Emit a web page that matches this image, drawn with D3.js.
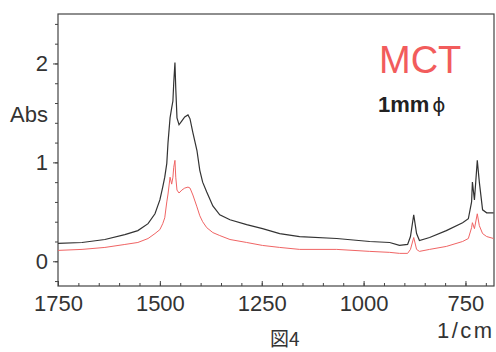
<!DOCTYPE html>
<html lang="ja">
<head>
  <meta charset="UTF-8">
  <title>図4 MCT</title>
  <script src="https://d3js.org/d3.v7.min.js"></script>
  <style>
    body { margin: 0; background: white; }
    svg { display: block; font-family: "Liberation Sans", Arial, sans-serif; }
    .axis path, .axis line { stroke: #444; }
    .axis text { font-size: 22px; fill: #333; }
  </style>
</head>
<body>
  <div id="chart"></div>
  <script>
    // wavenumber (1/cm) sampled along the spectrum
    const wavenumbers = [1750, 1691, 1635, 1586, 1554, 1529, 1512, 1500, 1493, 1488,
      1483, 1480, 1475, 1471, 1468, 1466, 1463, 1461, 1458, 1453,
      1446, 1439, 1431, 1426, 1419, 1409, 1402, 1395, 1385, 1370,
      1353, 1328, 1287, 1248, 1206, 1157, 1066, 985, 936, 912,
      892, 885, 877, 870, 863, 838, 797, 757, 743, 735,
      733, 728, 721, 716, 708, 698, 681];
    // upper (black) spectrum
    const absBlack = [0.18, 0.19, 0.22, 0.27, 0.31, 0.38, 0.48, 0.62, 0.75, 0.85,
      0.99, 1.2, 1.45, 1.55, 1.62, 1.8, 2.01, 1.75, 1.45, 1.38,
      1.42, 1.46, 1.48, 1.44, 1.3, 1.12, 0.92, 0.8, 0.7, 0.56,
      0.47, 0.42, 0.37, 0.33, 0.28, 0.25, 0.23, 0.2, 0.19, 0.16,
      0.17, 0.25, 0.47, 0.28, 0.21, 0.24, 0.31, 0.39, 0.43, 0.6,
      0.8, 0.62, 1.02, 0.8, 0.52, 0.49, 0.49];
    // lower (red) spectrum
    const absRed = [0.11, 0.12, 0.14, 0.17, 0.19, 0.23, 0.28, 0.32, 0.38, 0.44,
      0.6, 0.68, 0.85, 0.78, 0.85, 0.95, 1.02, 0.85, 0.72, 0.69,
      0.72, 0.74, 0.75, 0.74, 0.67, 0.55, 0.46, 0.4, 0.34, 0.29,
      0.26, 0.22, 0.19, 0.16, 0.14, 0.12, 0.12, 0.1, 0.09, 0.08,
      0.08, 0.12, 0.24, 0.12, 0.1, 0.12, 0.15, 0.2, 0.23, 0.34,
      0.39, 0.33, 0.48, 0.36, 0.28, 0.25, 0.23];

    const xMajor = [1750, 1500, 1250, 1000, 750];
    const xMinor = d3.range(700, 1751, 50);
    const yMajor = [0, 1, 2];
    const yMinor = d3.range(-0.2, 2.41, 0.2);

    const width = 496, height = 352;
    const plotLeft = 58, plotRight = 494, plotTop = 14, plotBottom = 286;

    const svg = d3.select("#chart").append("svg")
      .attr("width", width)
      .attr("height", height);

    const x = d3.scaleLinear().domain([1750, 680]).range([plotLeft, plotRight]);
    const y = d3.scaleLinear().domain([-0.25, 2.5]).range([plotBottom, plotTop]);

    // frame
    svg.append("rect")
      .attr("x", plotLeft).attr("y", plotTop)
      .attr("width", plotRight - plotLeft).attr("height", plotBottom - plotTop)
      .attr("fill", "none").attr("stroke", "#444").attr("stroke-width", 1.2);

    // minor ticks
    svg.append("g").attr("class", "axis")
      .attr("transform", "translate(0," + plotBottom + ")")
      .call(d3.axisBottom(x).tickValues(xMinor).tickSize(-3).tickFormat(""))
      .call(g => g.select(".domain").remove());
    svg.append("g").attr("class", "axis")
      .attr("transform", "translate(" + plotLeft + ",0)")
      .call(d3.axisLeft(y).tickValues(yMinor).tickSize(3).tickFormat(""))
      .call(g => g.select(".domain").remove());

    // major ticks and labels
    svg.append("g").attr("class", "axis")
      .attr("transform", "translate(0," + plotBottom + ")")
      .call(d3.axisBottom(x).tickValues(xMajor).tickSize(-5).tickPadding(9).tickFormat(d3.format("d")))
      .call(g => g.select(".domain").remove());
    svg.append("g").attr("class", "axis")
      .attr("transform", "translate(" + plotLeft + ",0)")
      .call(d3.axisLeft(y).tickValues(yMajor).tickSize(5).tickPadding(5).tickFormat(d3.format("d")))
      .call(g => g.select(".domain").remove());

    svg.selectAll(".axis text").attr("font-family", "Liberation Sans, Arial, sans-serif");

    const line = series => d3.line()
      .x((d, i) => x(wavenumbers[i]))
      .y(d => y(d))(series);

    svg.append("path")
      .attr("d", line(absRed))
      .attr("fill", "none").attr("stroke", "#f06464").attr("stroke-width", 1);
    svg.append("path")
      .attr("d", line(absBlack))
      .attr("fill", "none").attr("stroke", "#333").attr("stroke-width", 1.2);

    // labels
    svg.append("text").attr("x", 10).attr("y", 122)
      .attr("font-size", 22).attr("fill", "#333").text("Abs");
    svg.append("text").attr("x", 379).attr("y", 73)
      .attr("font-size", 38).attr("fill", "#f25c5c").text("MCT");
    const sub = svg.append("text").attr("x", 378).attr("y", 112)
      .attr("font-size", 22).attr("fill", "#222");
    sub.append("tspan").attr("font-weight", "bold").text("1mm");
    sub.append("tspan").attr("dx", 3).attr("font-family", "DejaVu Sans, sans-serif")
      .attr("font-size", 20).text("ϕ");
    svg.append("text").attr("x", 437).attr("y", 338)
      .attr("font-size", 22).attr("letter-spacing", 2.5).attr("fill", "#333").text("1/cm");
    svg.append("text").attr("x", 270).attr("y", 346)
      .attr("font-size", 19).attr("fill", "#333")
      .attr("font-family", "Noto Sans CJK JP, sans-serif").text("図4");
  </script>
</body>
</html>
